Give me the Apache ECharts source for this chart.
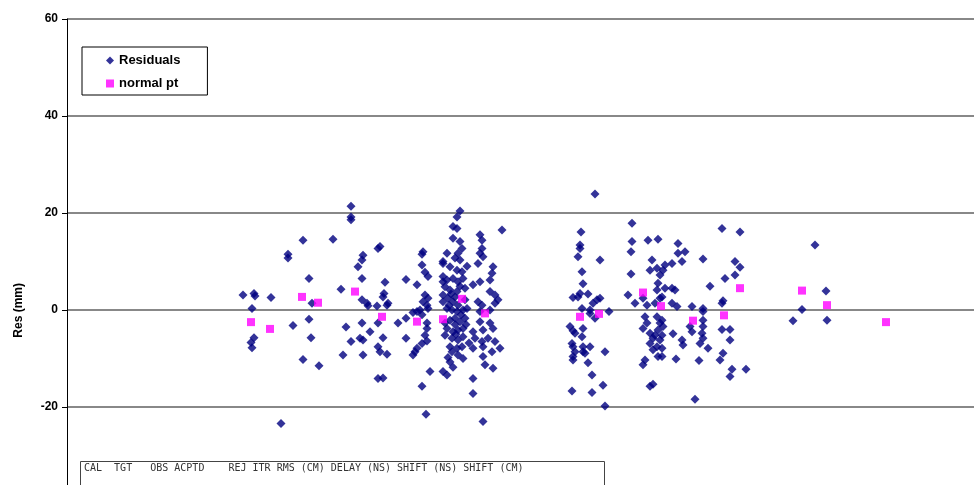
<!DOCTYPE html>
<html>
<head>
<meta charset="utf-8">
<script src="https://cdn.jsdelivr.net/npm/echarts@6/dist/echarts.min.js"></script>
<style>html,body{margin:0;padding:0;background:#fff}#c{width:974px;height:485px}</style>
</head>
<body>
<div id="c"></div>
<script>
// Y axis ticks
var yTicks = [-40, -20, 0, 20, 40, 60];
// Residuals: [pass position, residual mm]
var residX = [243,254,255,271,252,254,251,252,288,288,303,309,312,293,309,311,303,319,281,333,341,346,351,343,351,351,351,
363,362,358,362,362,367,368,362,360,363,370,363,380,378,385,384,383,388,387,377,378,383,378,380,387,378,383,398,406,406,406,417,417,413,423,422,422,425,428,425,428,423,427,428,420,422,427,427,425,427,422,417,415,413,430,422,426,
460,457,453,457,453,460,462,447,458,455,460,443,450,457,462,443,447,453,458,463,445,450,457,465,443,448,455,453,458,465,447,452,457,463,467,445,450,455,460,465,447,453,458,463,445,452,458,463,450,457,462,452,458,450,443,447,473,473,483,443,443,443,
449,461,455,466,451,460,456,448,463,453,467,469,
502,480,482,482,480,483,478,493,492,473,480,490,490,495,498,495,478,482,480,490,480,490,473,483,493,475,482,488,495,473,483,492,500,483,485,493,
595,581,580,580,578,600,582,583,580,573,578,588,597,600,593,582,590,609,595,590,570,573,575,583,582,572,573,575,573,573,583,583,590,585,605,588,592,603,572,592,605,
632,632,631,648,658,652,650,657,631,660,658,628,635,643,647,657,660,655,645,647,643,650,653,657,660,658,655,660,650,657,653,658,645,643,653,650,
722,740,678,678,685,682,672,665,663,703,735,740,735,725,710,665,672,675,662,672,677,692,703,722,723,703,662,663,662,690,692,703,703,702,703,700,673,682,683,722,730,730,708,662,662,723,720,676,699,732,746,730,695,
815,826,802,793,827];
var residY = [3.1,3.4,2.9,2.6,0.3,-5.7,-6.7,-7.8,11.5,10.7,14.4,6.5,1.4,-3.2,-1.9,-5.7,-10.2,-11.5,-23.4,14.6,4.3,-3.5,-6.5,-9.3,21.4,19.2,18.6,
11.3,10.3,8.9,6.5,2.1,1.4,0.9,-2.7,-5.8,-6.2,-4.5,-9.3,13.1,12.7,5.7,3.4,2.7,1.4,1.0,0.8,-2.7,-5.7,-7.6,-8.6,-9.1,-14.1,-14.0,-2.7,6.3,-1.7,-5.8,5.2,-0.3,-0.5,12.0,11.5,9.3,7.8,6.9,3.1,2.4,1.7,1.0,0.3,0,-1.0,-2.7,-3.8,-5.2,-6.4,-6.9,-7.9,-8.6,-9.3,-12.7,-15.7,-21.5,
20.4,19.2,17.2,16.8,14.8,14.1,12.7,11.7,11.7,10.7,10.3,9.6,8.9,8.2,7.9,6.9,6.2,6.5,5.8,6.5,4.8,4.1,3.8,4.5,3.1,2.4,2.7,1.7,1.0,2.1,0.3,0,-0.3,0,0.3,-2.7,-2.1,-1.7,-2.4,-1.7,-3.8,-4.5,-4.1,-3.8,-5.2,-5.8,-6.2,-5.5,-7.6,-7.9,-7.6,-8.6,-9.3,-10.7,-12.7,-13.4,-14.1,-17.2,-23.0,10.0,5.8,1.7,
1.0,-1.0,-3.0,-3.0,3.3,4.9,-5.0,-9.8,-10.0,-11.8,9.0,-6.8,
16.5,15.5,14.4,12.7,11.7,11.0,9.6,8.9,7.6,5.2,5.8,6.2,3.8,3.1,2.1,1.4,1.7,1.0,-0.3,0,-2.4,-2.7,-4.5,-4.1,-3.8,-5.8,-6.5,-5.8,-6.5,-7.9,-7.6,-8.6,-7.9,-9.6,-11.3,-12.0,
23.9,16.1,13.4,12.7,11.0,10.3,7.9,5.4,3.4,2.6,2.7,3.3,2.1,2.4,1.4,0.3,0,-0.3,-1.7,-0.7,-3.4,-4.3,-4.8,-3.8,-5.5,-6.9,-7.6,-8.6,-9.6,-10.3,-7.6,-8.6,-7.6,-8.9,-8.6,-10.9,-13.4,-15.5,-16.7,-17.0,-19.8,
17.9,14.1,12.0,14.4,14.6,10.3,8.2,8.6,7.4,7.2,5.5,3.1,1.4,2.4,1.0,4.1,2.4,1.4,-1.4,-2.7,-3.8,-4.8,-5.8,-1.4,-2.7,-4.1,-5.2,-6.2,-6.9,-7.6,-8.2,-9.6,-10.3,-11.3,-15.3,-15.7,
16.8,16.1,13.7,11.7,12.0,10.0,9.6,9.3,8.2,10.5,10.0,8.8,7.2,6.5,4.9,4.5,4.5,4.1,2.7,1.4,0.7,0.7,0.3,1.4,1.9,-0.3,-2.1,-3.4,-5.2,-3.4,-4.5,-2.1,-3.4,-4.8,-5.8,-6.9,-4.9,-6.2,-7.2,-4.0,-4.0,-6.2,-7.9,-7.9,-9.6,-8.9,-10.3,-10.1,-10.4,-12.2,-12.2,-13.7,-18.4,
13.4,3.9,0.1,-2.2,-2.1];
// Normal points
var normX = [251,270,302,318,355,382,417,443,462,485,580,599,643,661,693,724,740,802,827,886];
var normY = [-2.5,-3.9,2.7,1.5,3.8,-1.4,-2.4,-1.9,2.3,-0.7,-1.4,-0.8,3.6,0.8,-2.2,-1.1,4.5,4.0,1.0,-2.5];
var headerText = 'CAL  TGT   OBS ACPTD    REJ ITR RMS (CM) DELAY (NS) SHIFT (NS) SHIFT (CM)';

function zip(a, b) { var r = []; for (var i = 0; i < a.length && i < b.length; i++) r.push([a[i], b[i]]); return r; }

var chart = echarts.init(document.getElementById('c'), null, {renderer: 'canvas'});
chart.setOption({
  animation: false,
  backgroundColor: '#ffffff',
  grid: {left: 67, right: 0, top: 19, height: 485, outerBoundsMode: 'none', containLabel: false},
  legend: {
    orient: 'vertical', left: 82, top: 47,
    padding: [7, 27, 5, 24],
    itemGap: 10, itemWidth: 8, itemHeight: 8,
    borderColor: '#000', borderWidth: 1,
    textStyle: {fontFamily: 'Liberation Sans, Arial', fontWeight: 'bold', fontSize: 13, color: '#000'},
    data: [{name: 'Residuals', icon: 'diamond'}, {name: 'normal pt', icon: 'rect'}]
  },
  xAxis: {type: 'value', min: 67, max: 974, show: false},
  yAxis: {
    type: 'value', min: yTicks[0], max: yTicks[yTicks.length - 1], interval: 20,
    axisLine: {show: true, onZero: false, lineStyle: {color: '#000', width: 1}},
    axisTick: {show: true, length: 5, lineStyle: {color: '#000'}},
    axisLabel: {margin: 9, color: '#000', fontFamily: 'Liberation Sans, Arial', fontWeight: 'bold', fontSize: 12},
    splitLine: {show: true, lineStyle: {color: '#888888', width: 2}}
  },
  series: [
    {name: 'Residuals', type: 'scatter', symbol: 'diamond', symbolSize: 9,
     itemStyle: {color: '#000080'}, data: zip(residX, residY), z: 2},
    {name: 'normal pt', type: 'scatter', symbol: 'rect', symbolSize: 8,
     itemStyle: {color: '#FF00FF'}, data: zip(normX, normY), z: 3}
  ],
  graphic: [
    {type: 'text', left: 13, top: 283, rotation: Math.PI / 2,
     style: {text: 'Res (mm)', font: 'bold 12px "Liberation Sans", Arial', fill: '#000'}},
    {type: 'rect', shape: {x: 80.5, y: 461.5, width: 524, height: 40},
     style: {fill: '#fff', stroke: '#444', lineWidth: 1}, z: 10},
    {type: 'text', x: 84, y: 463, z: 11,
     style: {text: headerText, font: '10px "DejaVu Sans Mono", monospace', fill: '#333'}}
  ]
});
</script>
</body>
</html>
